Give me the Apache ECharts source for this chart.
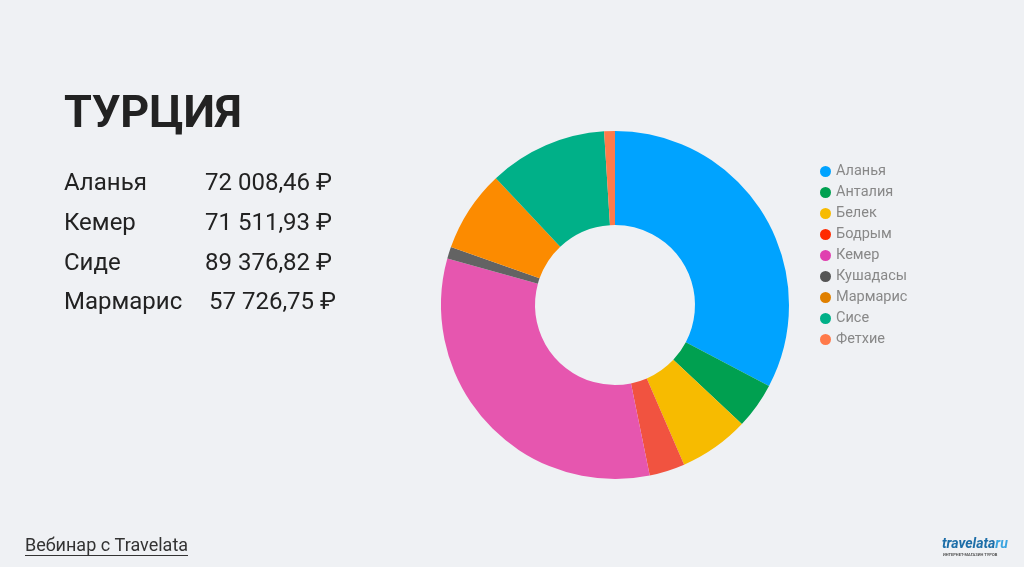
<!DOCTYPE html>
<html>
<head>
<meta charset="utf-8">
<script src="https://cdn.jsdelivr.net/npm/echarts@6/dist/echarts.min.js"></script>
<style>
html,body{margin:0;padding:0;background:#eff1f4;}
#main{width:1024px;height:567px;}
</style>
</head>
<body>
<div id="main"></div>
<script>
// Chart data
const categories = ['Аланья','Анталия','Белек','Бодрым','Кемер','Кушадасы','Мармарис','Сисе','Фетхие'];
const shares = [32.7, 4.3, 6.5, 3.3, 32.5, 1.1, 7.6, 11.0, 1.0];
const sliceColors = ['#00a3ff','#00a050','#f7bb00','#f15340','#e656af','#636363','#fc8b00','#00b088','#ff7a4a'];
const legendColors = ['#00a3ff','#00a050','#f7bb00','#ff2a00','#e040b0','#555555','#e08000','#00b088','#ff7a4a'];

// Side table
const tableCities = ['Аланья','Кемер','Сиде','Мармарис'];
const tablePrices = ['72 008,46 ₽','71 511,93 ₽','89 376,82 ₽','57 726,75 ₽'];
const title = 'ТУРЦИЯ';
const footer = 'Вебинар с Travelata';

const chart = echarts.init(document.getElementById('main'));

const graphics = [
  {type:'text', left:64, top:93, style:{text:title, font:'bold 45px Roboto', fill:'#222222'}}
];
const rowY = [172, 212, 252, 291];
const priceX = [205, 205, 205, 209];
tableCities.forEach((c,i)=>{
  graphics.push({type:'text', left:64, top:rowY[i], style:{text:c, font:'24px Roboto', fill:'#222222'}});
  graphics.push({type:'text', left:priceX[i], top:rowY[i], style:{text:tablePrices[i], font:'24px Roboto', fill:'#222222'}});
});
graphics.push({type:'text', left:25, top:537, style:{text:footer, font:'18px Roboto', fill:'#333333'}});
graphics.push({type:'rect', left:25, top:555, shape:{width:163, height:1}, style:{fill:'#333333'}});
graphics.push({type:'text', left:942, top:537, style:{rich:{a:{font:'italic bold 14px Roboto', fill:'#1d6ea8'}, b:{font:'italic bold 14px Roboto', fill:'#3aa4e0'}}, text:'{a|travelata}{b|ru}'}});
graphics.push({type:'text', left:943, top:553, style:{text:'ИНТЕРНЕТ-МАГАЗИН ТУРОВ', font:'bold 4px Roboto', fill:'#555555'}});

chart.setOption({
  backgroundColor:'#eff1f4',
  animation:false,
  graphic: graphics,
  legend:{
    orient:'vertical',
    left:815, top:159,
    icon:'circle',
    itemWidth:11, itemHeight:11,
    itemGap:6,
    textStyle:{fontSize:14.5, color:'#888888', fontFamily:'Roboto', lineHeight:15},
    data: categories.map((c,i)=>({name:c, itemStyle:{color:legendColors[i]}}))
  },
  series:[{
    type:'pie',
    center:[615,305],
    radius:[80,174],
    startAngle:90,
    clockwise:true,
    label:{show:false},
    labelLine:{show:false},
    emphasis:{disabled:true},
    data: categories.map((c,i)=>({name:c, value:shares[i], itemStyle:{color:sliceColors[i]}}))
  }]
});
</script>
</body>
</html>
